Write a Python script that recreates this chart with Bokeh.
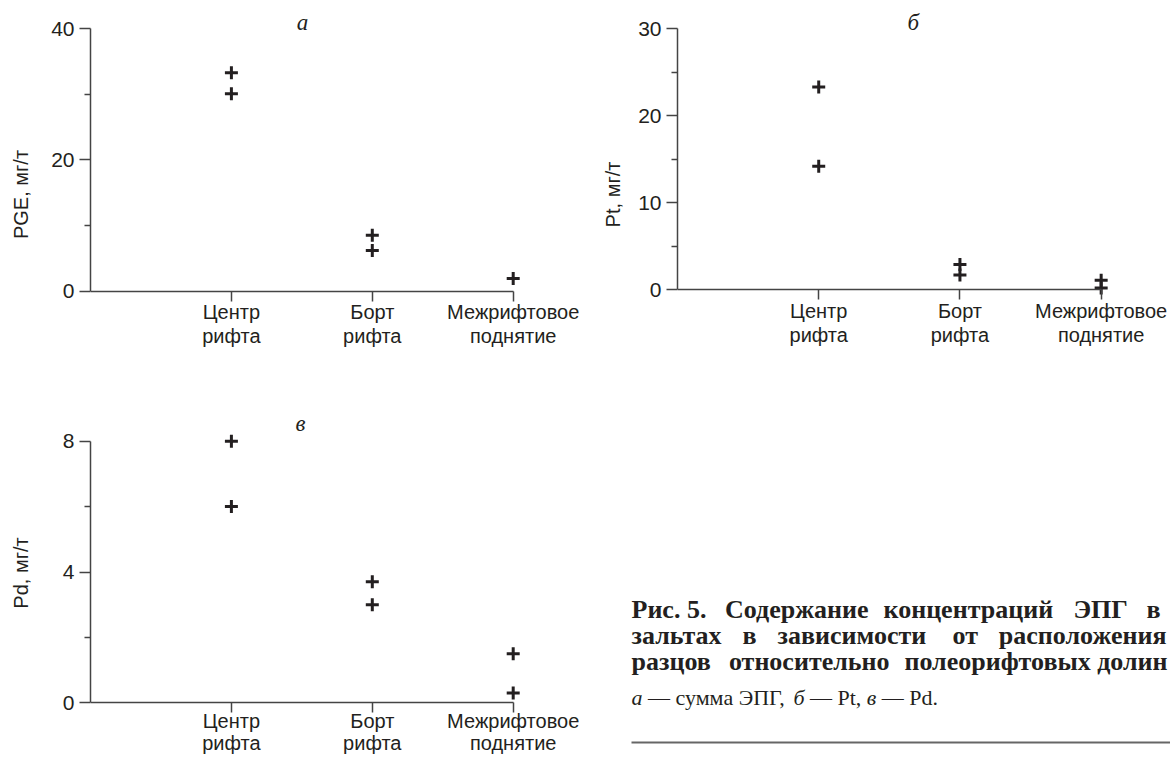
from bokeh.plotting import figure
from bokeh.models import Range1d, FixedTicker, Label
from bokeh.layouts import row, column
from bokeh.core.properties import value
from bokeh.embed import file_html
from bokeh.resources import INLINE

# ---------------- data ----------------
categories = ["Центр\nрифта", "Борт\nрифта", "Межрифтовое\nподнятие"]

pge_center = [33.3, 30.1]
pge_side = [8.5, 6.2]
pge_inter = [1.9]

pt_center = [23.3, 14.2]
pt_side = [2.9, 1.7]
pt_inter = [1.1, 0.2]

pd_center = [8.0, 6.0]
pd_side = [3.7, 3.0]
pd_inter = [1.5, 0.3]

pge_ticks = [0, 20, 40]
pge_minor = [10, 30]
pt_ticks = [0, 10, 20, 30]
pt_minor = [5, 15, 25]
pd_ticks = [0, 4, 8]
pd_minor = [2, 6]

caption_line1 = ["Рис. 5.", "Содержание", "концентраций", "ЭПГ", "в"]
caption_line2 = ["зальтах", "в", "зависимости", "от", "расположения"]
caption_line3 = ["разцов", "относительно", "полеорифтовых", "долин"]
caption_sub = [("а", "italic"), ("— сумма ЭПГ,", "normal"), ("б", "italic"),
               ("— Pt,", "normal"), ("в", "italic"), ("— Pd.", "normal")]

INK = "#231f20"
AXIS = "#444444"
SANS = "Liberation Sans"
SERIF = "Liberation Serif"


def make_panel(width, height, left, x_end, y_start, y_end, ymax, ticks, minor,
               ylabel, standoff, groups, title, title_x, title_y,
               cat_standoff=0, cat_line_height=1.08):
    p = figure(width=width, height=height,
               x_range=Range1d(0, x_end), y_range=Range1d(y_start, y_end),
               output_backend="svg", toolbar_location=None,
               min_border_left=left, min_border_right=0,
               min_border_top=0, min_border_bottom=0)
    p.outline_line_color = None
    p.grid.visible = False
    p.background_fill_color = "white"
    p.border_fill_color = "white"

    # x axis drawn at y = 0
    xa = p.xaxis[0]
    xa.fixed_location = 0
    xa.bounds = (0, len(categories))
    xa.ticker = FixedTicker(ticks=list(range(1, len(categories) + 1)))
    xa.major_label_overrides = {i + 1: c for i, c in enumerate(categories)}
    xa.major_tick_out = 10
    xa.major_tick_in = 0
    xa.minor_tick_out = 0
    xa.minor_tick_in = 0
    xa.axis_line_color = AXIS
    xa.axis_line_width = 1.5
    xa.major_tick_line_color = AXIS
    xa.major_tick_line_width = 1.5
    xa.major_label_standoff = cat_standoff
    xa.major_label_text_font = SANS
    xa.major_label_text_font_size = "20px"
    xa.major_label_text_color = INK
    xa.major_label_text_line_height = cat_line_height

    ya = p.yaxis[0]
    ya.bounds = (0, ymax)
    ya.ticker = FixedTicker(ticks=ticks, minor_ticks=minor)
    ya.major_tick_out = 11
    ya.major_tick_in = 0
    ya.minor_tick_out = 6
    ya.minor_tick_in = 0
    ya.axis_line_color = AXIS
    ya.axis_line_width = 1.5
    ya.major_tick_line_color = AXIS
    ya.major_tick_line_width = 1.5
    ya.minor_tick_line_color = AXIS
    ya.minor_tick_line_width = 1.5
    ya.major_label_standoff = 5
    ya.major_label_text_font = SANS
    ya.major_label_text_font_size = "21px"
    ya.major_label_text_color = INK
    ya.axis_label = ylabel
    ya.axis_label_text_font = SANS
    ya.axis_label_text_font_size = "20px"
    ya.axis_label_text_font_style = "normal"
    ya.axis_label_text_color = INK
    ya.axis_label_standoff = standoff

    xs, ys = [], []
    for i, vals in enumerate(groups):
        for v in vals:
            xs.append(i + 1)
            ys.append(v)
    p.scatter(xs, ys, marker="cross", size=13, line_width=3, line_color=INK)

    p.add_layout(Label(x=title_x, y=title_y, text=title, text_font=SERIF,
                       text_font_style="italic", text_font_size="23px",
                       text_color=INK, text_align="center", text_baseline="middle"))
    return p


pa = make_panel(594, 388, 90, 3.577, -14.87, 44.32, 40, pge_ticks, pge_minor,
                "PGE, мг/т", 16, [pge_center, pge_side, pge_inter], "а", 1.505, 40.96)
pb = make_panel(576, 388, 83, 3.491, -11.34, 33.25, 30, pt_ticks, pt_minor,
                "Pt, мг/т", 11, [pt_center, pt_side, pt_inter], "б", 1.67, 30.72)
pc = make_panel(594, 369, 90, 3.577, -1.673, 9.612, 8, pd_ticks, pd_minor,
                "Pd, мг/т", 28, [pd_center, pd_side, pd_inter], "в", 1.49, 8.54,
                cat_standoff=-3, cat_line_height=1.0)

# ---------------- caption (page-pixel coordinates, y downward) ----------------
pcap = figure(width=576, height=369, x_range=Range1d(594, 1170), y_range=Range1d(757, 388),
              x_axis_type=None, y_axis_type=None, output_backend="svg",
              toolbar_location=None, min_border=0)
pcap.outline_line_color = None
pcap.grid.visible = False
pcap.background_fill_color = "white"
pcap.border_fill_color = "white"

# approximate word widths (in em) used only to spread justified words
WORD_EM = {"Рис. 5.": 2.79, "Содержание": 5.29, "концентраций": 6.5, "ЭПГ": 2.0, "в": 0.54,
           "зальтах": 3.46, "зависимости": 5.92, "от": 1.04, "расположения": 6.38,
           "разцов": 3.04, "относительно": 6.04, "полеорифтовых": 6.67, "долин": 2.74}
SEG_EM = {"а": 0.5, "— сумма ЭПГ,": 6.36, "б": 0.5, "— Pt,": 2.33, "в": 0.44, "— Pd.": 2.56}

CAP_FS = 26
SUB_FS = 22


def justify(words, x0, x1, y):
    ws = [WORD_EM[w] * CAP_FS for w in words]
    gap = (x1 - x0 - sum(ws)) / (len(words) - 1)
    xs, x = [], x0
    for w in ws:
        xs.append(x)
        x += w + gap
    pcap.text(x=xs[:-1], y=[y] * (len(words) - 1), text=words[:-1],
              text_font=value(SERIF), text_font_style="bold",
              text_font_size=f"{CAP_FS}px", text_color=INK,
              text_align="left", text_baseline="middle")
    pcap.text(x=[x1], y=[y], text=[words[-1]],
              text_font=value(SERIF), text_font_style="bold",
              text_font_size=f"{CAP_FS}px", text_color=INK,
              text_align="right", text_baseline="middle")


justify(caption_line1, 631, 1160, 609)
justify(caption_line2, 631, 1166, 635)
justify(caption_line3, 631, 1167, 661)

x = 631
for seg, style in caption_sub:
    pcap.text(x=[x], y=[697], text=[seg], text_font=value(SERIF), text_font_style=style,
              text_font_size=f"{SUB_FS}px", text_color=INK,
              text_align="left", text_baseline="middle")
    x += (SEG_EM[seg] + 0.25) * SUB_FS

pcap.segment(x0=[631], y0=[742], x1=[1170], y1=[742], line_color="#666666", line_width=2)

layout = column(row(pa, pb), row(pc, pcap))

open("out.html", "w").write(file_html(layout, INLINE))
